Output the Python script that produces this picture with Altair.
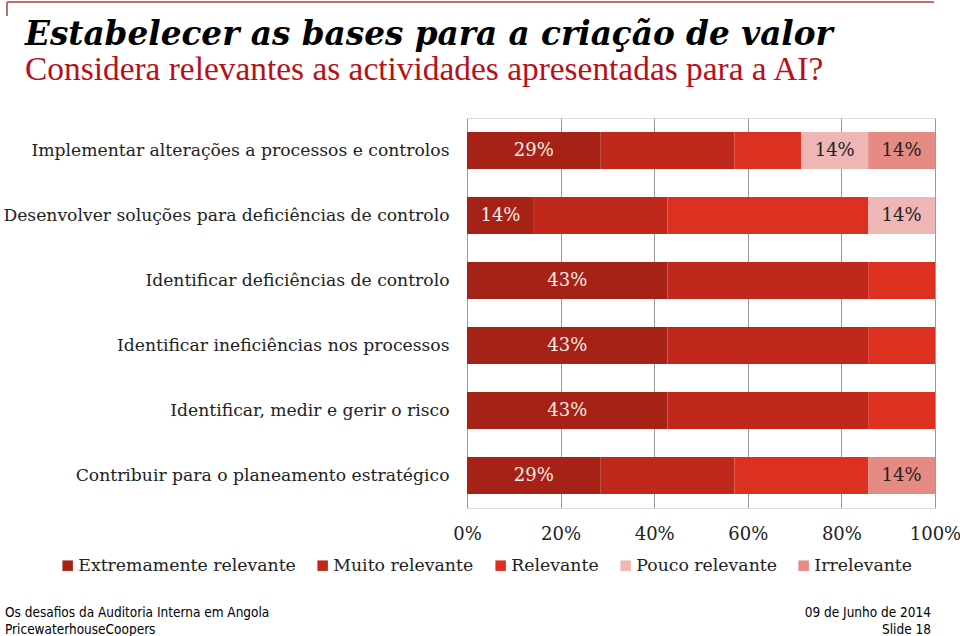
import altair as alt
import pandas as pd

rows = [
    "Implementar alterações a processos e controlos",
    "Desenvolver soluções para deficiências de controlo",
    "Identificar deficiências de controlo",
    "Identificar ineficiências nos processos",
    "Identificar, medir e gerir o risco",
    "Contribuir para o planeamento estratégico",
]
categories = ["Extremamente relevante", "Muito relevante", "Relevante",
              "Pouco relevante", "Irrelevante"]
colors = ["#a62116", "#c1281c", "#dc3021", "#efb6b6", "#e68a84"]

# values in % per row, one list per category (row order as above)
extremamente = [28.6, 14.3, 42.9, 42.9, 42.9, 28.6]
muito = [28.6, 28.6, 42.9, 42.9, 42.9, 28.6]
relevante = [14.3, 42.9, 14.3, 14.3, 14.3, 28.6]
pouco = [14.3, 14.3, 0, 0, 0, 0]
irrelevante = [14.3, 0, 0, 0, 0, 14.3]

# shown data labels (empty = not shown)
lab_extremamente = ["29%", "14%", "43%", "43%", "43%", "29%"]
lab_muito = ["", "", "", "", "", ""]
lab_relevante = ["", "", "", "", "", ""]
lab_pouco = ["14%", "14%", "", "", "", ""]
lab_irrelevante = ["14%", "", "", "", "", "14%"]

series = [extremamente, muito, relevante, pouco, irrelevante]
labels = [lab_extremamente, lab_muito, lab_relevante, lab_pouco, lab_irrelevante]
light = [False, False, False, True, True]

recs = []
for ci, cat in enumerate(categories):
    for ri, r in enumerate(rows):
        recs.append({"row": r, "cat": cat, "order": ci, "value": series[ci][ri],
                     "label": labels[ci][ri],
                     "tcolor": "dark" if light[ci] else "light"})
df = pd.DataFrame(recs)

W, H = 468, 390
SERIF = "DejaVu Serif"
NARROW = "Liberation Sans Narrow, DejaVu Sans Condensed, Liberation Sans"

base = alt.Chart(df).transform_stack(
    stack="value", groupby=["row"], as_=["x0", "x1"],
    offset="normalize", sort=[alt.SortField("order", order="ascending")]
).transform_calculate(mid="(datum.x0 + datum.x1) / 2")

ysc = alt.Scale(domain=rows, paddingInner=0.43, paddingOuter=0.215)

bars = base.mark_bar(size=37).encode(
    y=alt.Y("row:N", sort=rows, scale=ysc, title=None,
            axis=alt.Axis(labelFont=SERIF, labelFontSize=17.2, labelColor="#222",
                          labelPadding=18, ticks=False, domain=False, labelLimit=500)),
    x=alt.X("x0:Q", scale=alt.Scale(domain=[0, 1], nice=False), title=None,
            axis=alt.Axis(format=".0%", values=[0, 0.2, 0.4, 0.6, 0.8, 1.0],
                          labelFont=SERIF, labelFontSize=18, labelColor="#222",
                          grid=True, gridColor="#9a9a9a", gridWidth=1,
                          domain=False, ticks=False, labelPadding=17,
                          labelFlush=False)),
    x2="x1:Q",
    color=alt.Color("cat:N", sort=categories,
                    scale=alt.Scale(domain=categories, range=colors),
                    legend=alt.Legend(title=None, orient="none", direction="horizontal",
                                      legendX=-408, legendY=439,
                                      symbolType="square", symbolSize=110,
                                      symbolStrokeWidth=0,
                                      labelFont=SERIF, labelFontSize=17.3,
                                      labelColor="#222", columnPadding=18,
                                      labelOffset=2, labelLimit=400)),
)

txt = base.transform_filter("datum.label != ''").mark_text(
    font=SERIF, fontSize=18, baseline="middle", align="center"
).encode(
    y=alt.Y("row:N", sort=rows, scale=ysc),
    x=alt.X("mid:Q"),
    text="label:N",
    color=alt.Color("tcolor:N", scale=alt.Scale(domain=["light", "dark"],
                                                 range=["#fbeee6", "#222222"]),
                    legend=None),
)

ann = pd.DataFrame({"k": [0]})
def t(text, x, y, size, color="#000", font=SERIF, style="normal", weight="normal",
      align="left"):
    return alt.Chart(ann).mark_text(text=text, font=font, fontSize=size, color=color,
                                    fontStyle=style, fontWeight=weight, align=align,
                                    baseline="alphabetic").encode(
        x=alt.value(x), y=alt.value(y))

OX, OY = 467, 118
title = t("Estabelecer as bases para a criação de valor", 25 - OX, 45 - OY, 32.7,
          style="italic", weight="bold")
subtitle = t("Considera relevantes as actividades apresentadas para a AI?", 25 - OX,
             80 - OY, 33.4, color="#b8101a", font="Liberation Serif")
f1 = t("Os desafios da Auditoria Interna em Angola", 5 - OX, 617 - OY, 13.5, font=NARROW)
f2 = t("PricewaterhouseCoopers", 5 - OX, 634 - OY, 13.5, font=NARROW)
f3 = t("09 de Junho de 2014", 931 - OX, 617 - OY, 13.5, font=NARROW, align="right")
f4 = t("Slide 18", 931 - OX, 634 - OY, 13.5, font=NARROW, align="right")

hline = alt.Chart(ann).mark_rule(color="#b87070", strokeWidth=2).encode(
    x=alt.value(7 - OX), x2=alt.value(934 - OX), y=alt.value(2 - OY))
vline = alt.Chart(ann).mark_rule(color="#b87070", strokeWidth=2).encode(
    x=alt.value(7 - OX), y=alt.value(2 - OY), y2=alt.value(16 - OY))

chart = alt.layer(bars, txt, title, subtitle, f1, f2, f3, f4, hline, vline).resolve_scale(
    color="independent"
).properties(
    width=W, height=H,
    autosize=alt.AutoSizeParams(type="none"),
    padding={"left": OX, "top": OY, "right": 960 - OX - W, "bottom": 636 - OY - H},
).configure_view(stroke=None).configure(background="white")

chart.save("out.html", embed_options={"renderer": "svg", "actions": False})
